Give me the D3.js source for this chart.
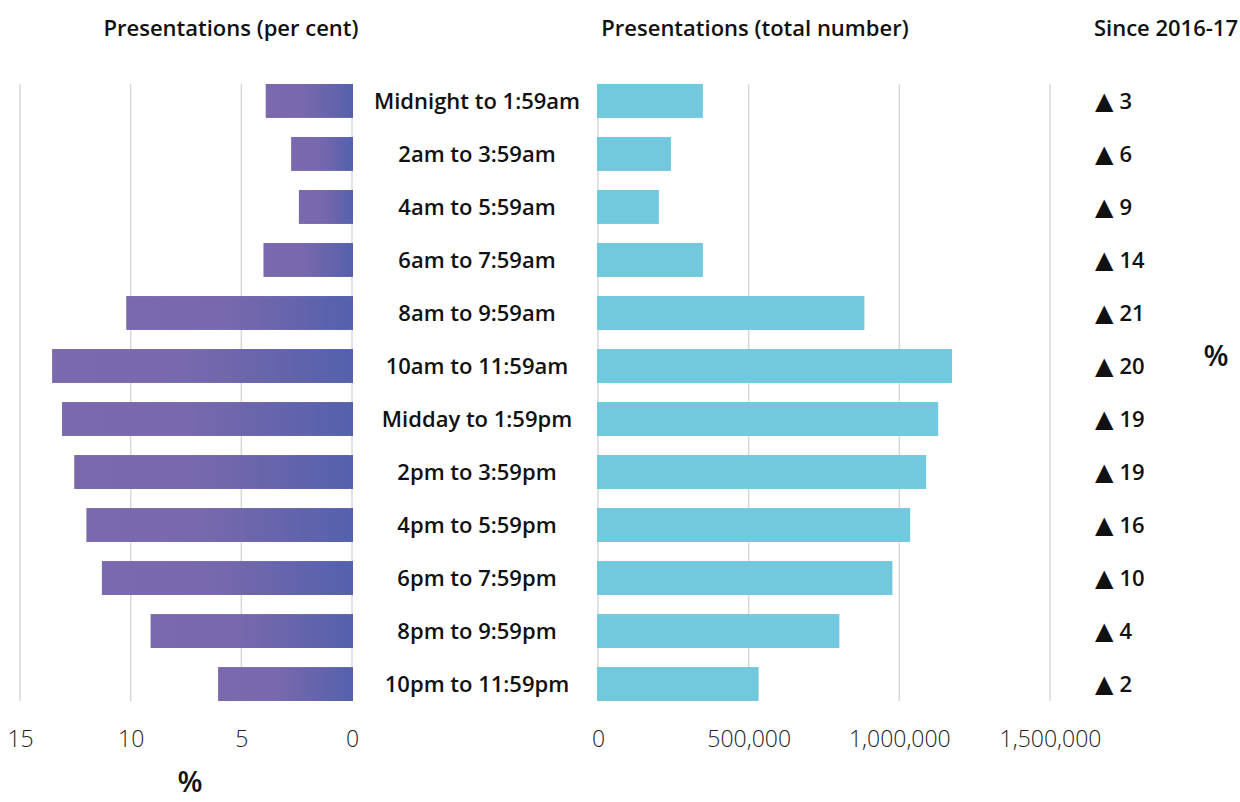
<!DOCTYPE html>
<html>
<head>
<meta charset="utf-8">
<script src="https://cdn.jsdelivr.net/npm/d3@7"></script>
<style>
  html, body { margin: 0; padding: 0; background: #fff; }
  svg { display: block; font-family: "Open Sans", "Noto Sans", sans-serif; }
</style>
</head>
<body>
<svg id="chart" width="1240" height="802"></svg>
<script>
// Emergency department presentations by time of arrival
const periods = [
  "Midnight to 1:59am", "2am to 3:59am", "4am to 5:59am", "6am to 7:59am",
  "8am to 9:59am", "10am to 11:59am", "Midday to 1:59pm", "2pm to 3:59pm",
  "4pm to 5:59pm", "6pm to 7:59pm", "8pm to 9:59pm", "10pm to 11:59pm"
];
const percentValues = [3.9, 2.75, 2.4, 4.0, 10.2, 13.55, 13.1, 12.55, 12.0, 11.3, 9.1, 6.05];
const totalValues = [348000, 242000, 202000, 348000, 884000, 1175000, 1129000, 1089000, 1036000, 977000, 801000, 533000];
const changeSince = [3, 6, 9, 14, 21, 20, 19, 19, 16, 10, 4, 2];
const percentTicks = [15, 10, 5, 0];
const totalTicks = [0, 500000, 1000000, 1500000];

const svg = d3.select("#chart");
const plotTop = 84, plotBottom = 701;
const labelSize = 22;

const y = d3.scaleBand().domain(periods).range([plotTop, plotBottom]).paddingInner(0.36).paddingOuter(0.0);
const xLeft = d3.scaleLinear().domain([15, 0]).range([20, 352]);
const xRight = d3.scaleLinear().domain([0, 1500000]).range([598, 1050]);

// gradient for the percentage bars
const defs = svg.append("defs");
const grad = defs.append("linearGradient").attr("id", "pctGrad")
  .attr("x1", "0").attr("x2", "1").attr("y1", "0").attr("y2", "0");
grad.append("stop").attr("offset", "0").attr("stop-color", "#7b69ae");
grad.append("stop").attr("offset", "0.45").attr("stop-color", "#7868ad");
grad.append("stop").attr("offset", "1").attr("stop-color", "#5461ac");

// gridlines
svg.append("g").selectAll("line").data(percentTicks).join("line")
  .attr("x1", d => xLeft(d)).attr("x2", d => xLeft(d))
  .attr("y1", plotTop).attr("y2", plotBottom)
  .attr("stroke", "#d9d9d9").attr("stroke-width", 1.5);
svg.append("g").selectAll("line").data(totalTicks).join("line")
  .attr("x1", d => xRight(d)).attr("x2", d => xRight(d))
  .attr("y1", plotTop).attr("y2", plotBottom)
  .attr("stroke", "#d9d9d9").attr("stroke-width", 1.5);

// percentage bars (left)
svg.append("g").selectAll("rect").data(periods).join("rect")
  .attr("x", (d, i) => xLeft(percentValues[i]))
  .attr("y", d => y(d))
  .attr("width", (d, i) => xLeft(0) - xLeft(percentValues[i]) + 1)
  .attr("height", y.bandwidth())
  .attr("fill", "url(#pctGrad)");

// total bars (right)
svg.append("g").selectAll("rect").data(periods).join("rect")
  .attr("x", xRight(0) - 1)
  .attr("y", d => y(d))
  .attr("width", (d, i) => xRight(totalValues[i]) - xRight(0) + 1)
  .attr("height", y.bandwidth())
  .attr("fill", "#72c9de");

// category labels
svg.append("g").selectAll("text").data(periods).join("text")
  .attr("x", 477)
  .attr("y", d => y(d) + y.bandwidth() / 2)
  .attr("dy", "0.35em")
  .attr("text-anchor", "middle")
  .attr("font-size", labelSize).attr("font-weight", 600).attr("fill", "#111")
  .text(d => d);

// change since 2016-17
const changeText = svg.append("g").selectAll("text").data(periods).join("text")
  .attr("x", 1095)
  .attr("y", d => y(d) + y.bandwidth() / 2)
  .attr("dy", "0.36em")
  .attr("font-size", labelSize).attr("font-weight", 600).attr("fill", "#111");
changeText.append("tspan")
  .attr("font-family", "'DejaVu Sans', sans-serif").attr("font-size", 24)
  .text("\u25B2");
changeText.append("tspan").attr("dx", 6)
  .text((d, i) => changeSince[i]);

// axes
const axisLeft = d3.axisBottom(xLeft).tickValues(percentTicks).tickSize(0).tickPadding(0);
const gL = svg.append("g").attr("transform", `translate(0, 731)`).call(axisLeft);
const axisRight = d3.axisBottom(xRight).tickValues(totalTicks).tickSize(0).tickPadding(0)
  .tickFormat(d3.format(","));
const gR = svg.append("g").attr("transform", `translate(0, 731)`).call(axisRight);
[gL, gR].forEach(g => {
  g.select(".domain").remove();
  g.selectAll("text")
    .attr("font-family", "'Open Sans', sans-serif")
    .attr("font-size", 23).attr("font-weight", 300).attr("fill", "#222")
    .attr("dy", "0.71em");
});

// titles
svg.append("text").attr("x", 231).attr("y", 36).attr("text-anchor", "middle")
  .attr("font-size", labelSize).attr("font-weight", 600).attr("fill", "#111")
  .text("Presentations (per cent)");
svg.append("text").attr("x", 755).attr("y", 36).attr("text-anchor", "middle")
  .attr("font-size", labelSize).attr("font-weight", 600).attr("fill", "#111")
  .text("Presentations (total number)");
svg.append("text").attr("x", 1238).attr("y", 36).attr("text-anchor", "end")
  .attr("font-size", labelSize).attr("font-weight", 600).attr("fill", "#111")
  .text("Since 2016-17");

// unit labels
svg.append("text").attr("x", 190).attr("y", 792).attr("text-anchor", "middle")
  .attr("font-size", 29).attr("font-weight", 600).attr("fill", "#111").text("%");
svg.append("text").attr("x", 1216).attr("y", 366).attr("text-anchor", "middle")
  .attr("font-size", 29).attr("font-weight", 600).attr("fill", "#111").text("%");
</script>
</body>
</html>
